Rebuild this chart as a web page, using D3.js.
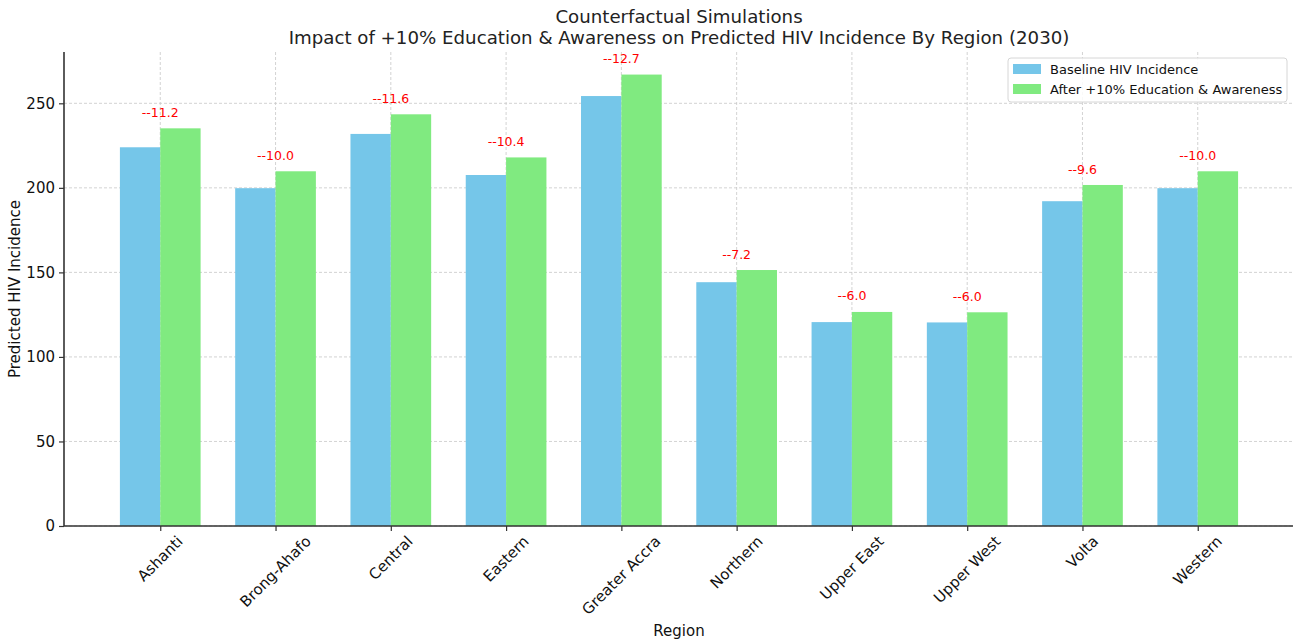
<!DOCTYPE html>
<html>
<head>
<meta charset="utf-8">
<script src="https://cdn.jsdelivr.net/npm/d3@7"></script>
<style>
  html, body { margin: 0; padding: 0; background: #fff; }
  svg { display: block; font-family: "DejaVu Sans", sans-serif; }
</style>
</head>
<body>
<svg id="chart" width="1293" height="641"></svg>
<script>
// Regions and predicted HIV incidence for 2030
const regions = ["Ashanti", "Brong-Ahafo", "Central", "Eastern", "Greater Accra",
                 "Northern", "Upper East", "Upper West", "Volta", "Western"];
const baseline = [224.0, 199.8, 231.9, 207.6, 254.3, 144.2, 120.6, 120.4, 192.1, 199.8];
const changes  = [11.2, 10.0, 11.6, 10.4, 12.7, 7.2, 6.0, 6.0, 9.6, 10.0];
const afterEdu = baseline.map((v, i) => +(v + changes[i]).toFixed(1));
const yTicks = [0, 50, 100, 150, 200, 250];
const seriesNames = ["Baseline HIV Incidence", "After +10% Education & Awareness"];
const seriesColors = ["#75c6e9", "#80ea80"];

const svg = d3.select("#chart");
const margin = { left: 64, right: 0, top: 52, bottom: 115 };
const W = 1293, H = 641;
const plotL = margin.left, plotR = 1294, plotT = margin.top, plotB = H - margin.bottom;

const barW = 0.35;
const pad = (regions.length - 1 + 2 * barW) * 0.05;
const x = d3.scaleLinear()
  .domain([-barW - pad, regions.length - 1 + barW + pad])
  .range([plotL, plotR]);
const yMax = d3.max(afterEdu) * 1.05;
const y = d3.scaleLinear().domain([0, yMax]).range([plotB, plotT]);

// grid
const grid = svg.append("g").attr("stroke", "#c8c8c8").attr("stroke-width", 0.8)
  .attr("stroke-dasharray", "3,2");
grid.selectAll(".hg").data(yTicks).join("line")
  .attr("x1", plotL).attr("x2", plotR)
  .attr("y1", d => y(d)).attr("y2", d => y(d));
grid.selectAll(".vg").data(regions).join("line")
  .attr("x1", (d, i) => x(i)).attr("x2", (d, i) => x(i))
  .attr("y1", plotT).attr("y2", plotB);

// bars
const series = [baseline, afterEdu];
series.forEach((vals, s) => {
  svg.append("g").selectAll("rect").data(vals).join("rect")
    .attr("x", (d, i) => x(i + (s === 0 ? -barW : 0)))
    .attr("width", x(barW) - x(0))
    .attr("y", d => y(d))
    .attr("height", d => y(0) - y(d))
    .attr("fill", seriesColors[s]);
});

// change labels above the post-intervention bars
svg.append("g").selectAll("text").data(changes).join("text")
  .attr("x", (d, i) => x(i))
  .attr("y", (d, i) => y(afterEdu[i] + 5) - 3)
  .attr("text-anchor", "middle")
  .attr("fill", "#ff0000")
  .attr("font-size", 12.5)
  .text(d => "--" + d.toFixed(1));

// y axis
const yAxis = svg.append("g").attr("transform", `translate(${plotL},0)`)
  .call(d3.axisLeft(y).tickValues(yTicks).tickSize(5).tickPadding(4));
yAxis.select(".domain").attr("stroke", "#333").attr("stroke-width", 1.6)
  .attr("d", `M0,${plotT}V${plotB}`);
yAxis.selectAll(".tick line").attr("stroke", "#333").attr("stroke-width", 1.2);
yAxis.selectAll(".tick text").attr("font-size", 15).attr("fill", "#111")
  .attr("font-family", "DejaVu Sans");

// x axis
const xAxis = svg.append("g").attr("transform", `translate(0,${plotB})`)
  .call(d3.axisBottom(x).tickValues(d3.range(regions.length)).tickSize(5).tickFormat(""));
xAxis.select(".domain").attr("stroke", "#333").attr("stroke-width", 1.6)
  .attr("d", `M${plotL},0H${plotR}`);
xAxis.selectAll(".tick line").attr("stroke", "#333").attr("stroke-width", 1.2);

// rotated category labels, bounding box centred on each tick
const fs = 15;
const labels = svg.append("g").selectAll("text").data(regions).join("text")
  .attr("font-size", fs).attr("fill", "#111")
  .attr("text-anchor", "middle").attr("dominant-baseline", "central")
  .text(d => d);
labels.each(function(d, i) {
  const w = this.getComputedTextLength();
  const h = fs * 1.1;
  const bh = (w + h) * Math.SQRT1_2;
  const cx = x(i), cy = plotB + 7 + bh / 2;
  d3.select(this).attr("x", cx).attr("y", cy)
    .attr("transform", `rotate(-45,${cx},${cy})`);
});

// axis titles
svg.append("text").attr("x", (plotL + plotR) / 2).attr("y", 636)
  .attr("text-anchor", "middle").attr("font-size", 15).attr("fill", "#111").text("Region");
svg.append("text")
  .attr("transform", `translate(20,${(plotT + plotB) / 2}) rotate(-90)`)
  .attr("text-anchor", "middle").attr("font-size", 15).attr("fill", "#111")
  .text("Predicted HIV Incidence");

// title
const title = svg.append("text").attr("text-anchor", "middle").attr("font-size", 18.2).attr("fill", "#222");
title.append("tspan").attr("x", (plotL + plotR) / 2).attr("y", 23).text("Counterfactual Simulations");
title.append("tspan").attr("x", (plotL + plotR) / 2).attr("y", 44)
  .text("Impact of +10% Education & Awareness on Predicted HIV Incidence By Region (2030)");

// legend
const lg = svg.append("g").attr("transform", "translate(1008,58)");
lg.append("rect").attr("width", 279).attr("height", 44).attr("rx", 3)
  .attr("fill", "#fff").attr("fill-opacity", 0.85).attr("stroke", "#d6d6d6");
seriesNames.forEach((n, i) => {
  lg.append("rect").attr("x", 5).attr("y", 6 + i * 20).attr("width", 28).attr("height", 10)
    .attr("fill", seriesColors[i]);
  lg.append("text").attr("x", 42).attr("y", 11 + i * 20).attr("dominant-baseline", "central")
    .attr("font-size", 13).attr("fill", "#111").text(n);
});
</script>
</body>
</html>
